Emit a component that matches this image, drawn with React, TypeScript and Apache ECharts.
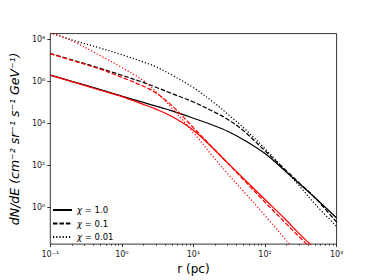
import React, { useEffect, useRef } from "react";
import * as echarts from "echarts";

// distance from source, pc
const radiusPc = [0.1, 0.2, 0.5, 1, 2, 3, 5, 10, 20, 30, 50, 100, 200, 300, 500, 1000];

// log10 of dN/dE (cm^-2 sr^-1 s^-1 GeV^-1)
const blackChi1 = [6.3, 6.0, 5.61, 5.3, 5.0, 4.82, 4.6, 4.25, 3.88, 3.63, 3.23, 2.57, 1.68, 1.15, 0.47, -0.49];
const blackChi01 = [7.32, 7.02, 6.62, 6.29, 5.95, 5.72, 5.42, 5.02, 4.53, 4.2, 3.66, 2.7, 1.75, 1.18, 0.47, -0.69];
const blackChi001 = [8.32, 7.97, 7.58, 7.27, 6.92, 6.69, 6.3, 5.7, 4.95, 4.45, 3.8, 2.8, 1.7, 1.05, 0.17, -0.89];
const redChi1 = [6.3, 5.99, 5.58, 5.28, 4.91, 4.68, 4.33, 3.68, 2.73, 2.13, 1.39, 0.39, -0.61, -1.23, -1.95];
const redChi01 = [7.32, 7.0, 6.58, 6.19, 5.77, 5.45, 4.85, 3.8, 2.74, 2.12, 1.33, 0.26, -0.78, -1.38, -2.12];
const redChi001 = [8.32, 7.93, 7.22, 6.66, 6.03, 5.51, 4.73, 3.57, 2.31, 1.62, 0.78, -0.38, -1.58, -2.42];

const legendNames = ["χ = 1.0", "χ = 0.1", "χ = 0.01"];
const xTickExponents = [-1, 0, 1, 2, 3];
const yTickExponents = [0, 2, 4, 6, 8];

const SUP: Record<string, string> = {
  "-": "⁻", "0": "⁰", "1": "¹", "2": "²", "3": "³", "4": "⁴",
  "5": "⁵", "6": "⁶", "7": "⁷", "8": "⁸", "9": "⁹",
};
const pow10Label = (e: number) =>
  "10" + String(Math.round(e)).split("").map((c) => SUP[c] || c).join("");

const toPoints = (vals: number[]) => vals.map((v, i) => [Math.log10(radiusPc[i]), v]);

const minorX: number[] = [];
for (let d = -1; d < 3; d++) for (let k = 2; k <= 9; k++) minorX.push(d + Math.log10(k));

const DASHED = [4.5, 1.95];
const DOTTED = [1.2, 2.0];

export default function App() {
  const ref = useRef<HTMLDivElement>(null);
  useEffect(() => {
    if (!ref.current) return;
    const chart = echarts.init(ref.current, undefined, { renderer: "svg" });
    const mk = (name: string, vals: number[], color: string, type: any) => ({
      name,
      type: "line",
      xAxisIndex: 0,
      yAxisIndex: 0,
      data: toPoints(vals),
      showSymbol: false,
      symbol: "none",
      smooth: 0.35,
      clip: true,
      lineStyle: { color, width: 1.25, type },
      itemStyle: { color },
      z: color === "#ff0000" ? 3 : 2,
    });
    chart.setOption({
      animation: false,
      textStyle: { fontFamily: "DejaVu Sans" },
      grid: {
        left: 46.75, right: 37.4, top: 33.6, bottom: 30.8,
        show: true, borderColor: "#000", borderWidth: 0.8, backgroundColor: "transparent",
        containLabel: false,
      },
      legend: {
        data: legendNames,
        orient: "vertical",
        left: 52,
        top: 205.5,
        padding: 0,
        itemWidth: 19,
        itemHeight: 8,
        itemGap: 4.5,
        itemStyle: { opacity: 0 },
        textStyle: { fontSize: 8.5, color: "#000", rich: { i: { fontStyle: "italic", fontSize: 8.5 } } },
        formatter: (name: string) => name.replace("χ", "{i|χ}"),
      },
      xAxis: [
        {
          type: "value",
          min: -1,
          max: 3,
          interval: 1,
          position: "bottom",
          name: "r (pc)",
          nameLocation: "middle",
          nameGap: 17,
          nameTextStyle: { fontSize: 12, color: "#000" },
          axisLine: { show: false, onZero: false },
          axisTick: { show: true, length: 3, lineStyle: { color: "#000", width: 0.8 }, customValues: xTickExponents },
          axisLabel: { fontSize: 8, color: "#222", margin: 6, formatter: (v: number) => pow10Label(v), customValues: xTickExponents },
          splitLine: { show: false },
        },
        {
          type: "value",
          min: -1,
          max: 3,
          position: "bottom",
          axisLine: { show: false, onZero: false },
          axisTick: { show: true, length: 1.8, lineStyle: { color: "#000", width: 0.6 }, customValues: minorX },
          axisLabel: { show: false },
          splitLine: { show: false },
        },
      ],
      yAxis: {
        type: "value",
        min: -1.73,
        max: 8.27,
        position: "left",
        name: "dN/dE (cm⁻² sr⁻¹ s⁻¹ GeV⁻¹)",
        nameLocation: "middle",
        nameGap: 24,
        nameTextStyle: { fontSize: 12.5, fontStyle: "italic", color: "#000" },
        axisLine: { show: false, onZero: false },
        axisTick: { show: true, length: 3, lineStyle: { color: "#000", width: 0.8 }, customValues: yTickExponents },
        axisLabel: { fontSize: 8, color: "#222", margin: 5, formatter: (v: number) => pow10Label(v), customValues: yTickExponents },
        splitLine: { show: false },
      },
      series: [
        mk(legendNames[0], blackChi1, "#000000", "solid"),
        mk(legendNames[1], blackChi01, "#000000", DASHED),
        mk(legendNames[2], blackChi001, "#000000", DOTTED),
        mk("red " + legendNames[0], redChi1, "#ff0000", "solid"),
        mk("red " + legendNames[1], redChi01, "#ff0000", DASHED),
        mk("red " + legendNames[2], redChi001, "#ff0000", DOTTED),
      ],
    });
    return () => chart.dispose();
  }, []);
  return (
    <div
      ref={ref}
      style={{ position: "fixed", left: 0, top: 0, width: 374, height: 280, background: "#fff" }}
    />
  );
}
